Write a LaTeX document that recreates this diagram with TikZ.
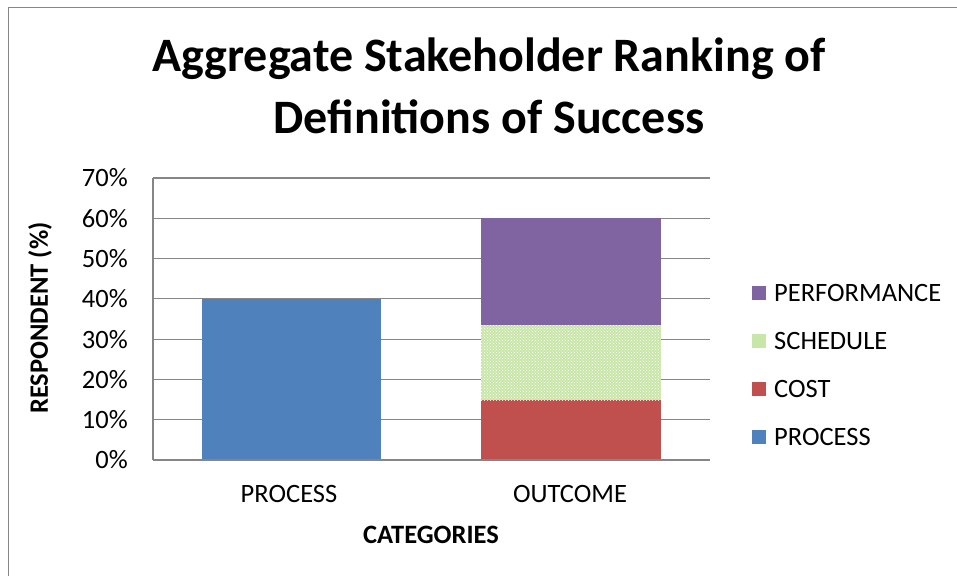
\documentclass[tikz,border=0pt]{standalone}
\usepackage{fontspec}
\setmainfont{Carlito}
\usetikzlibrary{patterns}

\definecolor{processblue}{RGB}{79,129,189}
\definecolor{costred}{RGB}{192,80,77}
\definecolor{perfpurple}{RGB}{128,100,162}
\definecolor{schedgreen}{RGB}{200,230,168}
\definecolor{gridgray}{RGB}{134,134,134}

\begin{document}
\begin{tikzpicture}[
            x=1pt, y=-1pt,
            label/.style = {font=\fontsize{26.5}{32}\selectfont, inner sep=0pt},
            axistitle/.style = {font=\bfseries\fontsize{26.5}{32}\selectfont, inner sep=0pt},
            grid/.style = {draw=gridgray, line width=1.2pt},
            key/.style = {minimum size=14pt, inner sep=0pt},
            ]
            \useasboundingbox (0,0) rectangle (957,576);
            % chart frame
            \draw[gridgray, line width=1pt] (8,576) -- (8,7) -- (957,7);

            % title
            \node[font=\bfseries\fontsize{48}{58}\selectfont, inner sep=0pt] (title1) at (489,59) {Aggregate Stakeholder Ranking of};
            \node[font=\bfseries\fontsize{48}{58}\selectfont, inner sep=0pt] (title2) at (489,117) {Definitions of Success};

            % gridlines and tick labels
            \foreach \v in {0,10,...,70} {
                \pgfmathsetmacro{\yy}{460-4.029*\v}
                \draw[grid] (153,\yy) -- (710,\yy);
                \node[label, anchor=east] (tick\v) at (128,\yy) {\v\%};
            }
            \draw[grid] (153,178) -- (153,460);

            % bars
            \fill[processblue] (202,460) rectangle (381,298.8);
            \fill[costred] (481,460) rectangle (661,400);
            \fill[schedgreen] (481,400) rectangle (661,325);
            \fill[pattern=crosshatch dots, pattern color=white] (481,400) rectangle (661,325);
            \fill[perfpurple] (481,325) rectangle (661,218.3);
            \draw[grid] (153,460) -- (710,460);

            % axis labels
            \node[label] (catprocess) at (289,494) {PROCESS};
            \node[label] (catoutcome) at (570,494) {OUTCOME};
            \node[axistitle] (xtitle) at (431,535) {CATEGORIES};
            \node[axistitle, rotate=90] (ytitle) at (40,318) {RESPONDENT (\%)};

            % legend
            \node[key, fill=perfpurple] (keyperf) at (759,293) {};
            \node[key, fill=schedgreen] (keysched) at (759,341) {};
            \node[key, fill=costred] (keycost) at (759,389) {};
            \node[key, fill=processblue] (keyprocess) at (759,437) {};
            \node[label, anchor=west] (legperf) at (774,293) {PERFORMANCE};
            \node[label, anchor=west] (legsched) at (774,341) {SCHEDULE};
            \node[label, anchor=west] (legcost) at (774,389) {COST};
            \node[label, anchor=west] (legprocess) at (774,437) {PROCESS};
\end{tikzpicture}
\end{document}
